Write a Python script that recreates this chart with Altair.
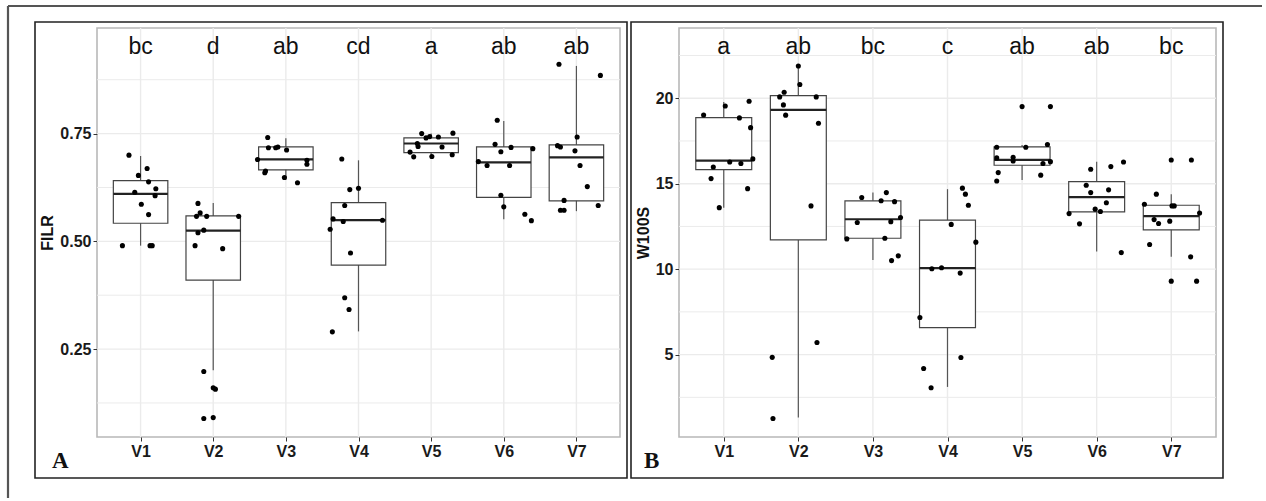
import altair as alt
import pandas as pd

cats = ["V1", "V2", "V3", "V4", "V5", "V6", "V7"]
cat_pos = [1, 2, 3, 4, 5, 6, 7]

# ---------------- Panel A : FILR ----------------
A_letters = ["bc", "d", "ab", "cd", "a", "ab", "ab"]
A_letter_y = 0.952
A_values = [
    [0.700, 0.669, 0.653, 0.638, 0.622, 0.614, 0.606, 0.586, 0.562, 0.490, 0.490, 0.490],
    [0.588, 0.566, 0.558, 0.558, 0.558, 0.526, 0.520, 0.490, 0.483, 0.198, 0.160, 0.157, 0.089, 0.091],
    [0.741, 0.717, 0.717, 0.719, 0.712, 0.690, 0.688, 0.679, 0.663, 0.659, 0.648, 0.636],
    [0.691, 0.620, 0.623, 0.583, 0.552, 0.546, 0.549, 0.528, 0.473, 0.369, 0.342, 0.290],
    [0.750, 0.740, 0.743, 0.742, 0.751, 0.727, 0.720, 0.719, 0.707, 0.696, 0.697, 0.701],
    [0.781, 0.725, 0.718, 0.715, 0.708, 0.685, 0.676, 0.676, 0.607, 0.580, 0.563, 0.548],
    [0.911, 0.885, 0.742, 0.722, 0.719, 0.710, 0.676, 0.627, 0.595, 0.572, 0.572, 0.583],
]
A_jitter = [
    [-0.16, 0.09, -0.03, 0.11, 0.21, -0.08, 0.20, 0.01, 0.11, -0.25, 0.13, 0.16],
    [-0.21, -0.18, -0.23, -0.09, 0.35, -0.13, -0.21, -0.25, 0.13, -0.13, 0.00, 0.03, -0.13, 0.00],
    [-0.25, -0.24, -0.14, -0.11, 0.01, -0.39, 0.29, 0.29, -0.28, -0.29, -0.02, 0.16],
    [-0.23, -0.12, 0.00, -0.19, -0.35, -0.21, 0.33, -0.39, -0.11, -0.19, -0.13, -0.36],
    [-0.13, -0.07, -0.02, 0.10, 0.30, -0.19, -0.18, 0.15, -0.29, -0.24, 0.01, 0.29],
    [-0.09, -0.12, 0.10, 0.40, -0.04, -0.35, -0.23, 0.08, -0.04, 0.00, 0.29, 0.38],
    [-0.24, 0.33, 0.01, -0.26, -0.22, -0.02, 0.05, 0.15, -0.17, -0.22, -0.17, 0.30],
]
A_q3 = [0.641, 0.559, 0.719, 0.590, 0.740, 0.719, 0.724]
A_med = [0.610, 0.525, 0.690, 0.549, 0.727, 0.683, 0.695]
A_q1 = [0.542, 0.410, 0.666, 0.445, 0.706, 0.602, 0.594]
A_hi = [0.698, 0.589, 0.739, 0.688, 0.750, 0.779, 0.907]
A_lo = [0.490, 0.201, 0.643, 0.291, 0.700, 0.551, 0.570]
A_ticks = [0.25, 0.50, 0.75]
A_minor = [0.125, 0.375, 0.625, 0.875]
A_domain = [0.046, 0.995]

# ---------------- Panel B : W100S ----------------
B_letters = ["a", "ab", "bc", "c", "ab", "ab", "bc"]
B_letter_y = 22.98
B_values = [
    [19.02, 19.55, 19.82, 18.85, 18.28, 16.45, 16.27, 16.18, 15.98, 15.30, 14.71, 13.60],
    [21.89, 20.80, 20.35, 20.08, 20.08, 19.61, 19.01, 18.54, 13.70, 4.84, 5.71, 1.26],
    [14.19, 14.48, 14.00, 13.95, 13.02, 12.73, 12.78, 11.77, 11.81, 10.50, 10.78],
    [14.74, 14.39, 13.74, 12.62, 11.58, 10.02, 10.08, 9.77, 7.17, 4.83, 4.19, 3.06],
    [19.51, 19.51, 17.13, 17.13, 17.29, 16.51, 16.55, 16.33, 16.29, 16.18, 15.65, 15.50, 15.16],
    [15.85, 16.00, 16.27, 14.91, 14.48, 14.64, 13.89, 13.51, 13.37, 13.25, 12.65, 10.97],
    [16.39, 16.39, 14.39, 13.80, 13.70, 13.70, 13.29, 12.90, 12.67, 12.81, 11.44, 10.72, 9.30, 9.30],
]
B_jitter = [
    [-0.27, 0.02, 0.34, 0.21, 0.36, 0.39, 0.08, 0.23, -0.14, -0.17, 0.32, -0.06],
    [0.00, 0.02, -0.19, -0.25, 0.24, -0.20, -0.17, 0.27, 0.17, -0.35, 0.25, -0.34],
    [-0.15, 0.18, 0.11, 0.29, 0.37, -0.21, 0.24, -0.35, 0.16, 0.25, 0.34],
    [0.20, 0.24, 0.28, 0.05, 0.38, -0.21, -0.08, 0.17, -0.37, 0.18, -0.32, -0.22],
    [0.00, 0.38, -0.34, 0.05, 0.34, -0.34, -0.12, -0.12, 0.38, 0.28, -0.32, 0.25, -0.34],
    [-0.08, 0.19, 0.36, -0.14, -0.08, 0.16, 0.13, -0.02, 0.05, -0.37, -0.23, 0.33],
    [0.00, 0.27, -0.20, -0.36, 0.01, 0.04, 0.38, -0.23, -0.17, -0.02, -0.29, 0.26, 0.00, 0.34],
]
B_q3 = [18.87, 20.15, 14.00, 12.87, 17.15, 15.12, 13.74]
B_med = [16.35, 19.32, 12.92, 10.06, 16.40, 14.21, 13.10]
B_q1 = [15.82, 11.71, 11.81, 6.58, 16.08, 13.35, 12.30]
B_hi = [19.78, 21.89, 14.48, 14.68, 17.27, 16.28, 14.39]
B_lo = [13.60, 1.32, 10.53, 3.11, 15.22, 11.03, 10.72]
B_ticks = [5, 10, 15, 20]
B_minor = [2.5, 7.5, 12.5, 17.5, 22.5]
B_domain = [0.18, 24.11]

BOX_HALF = 0.375
FONT = "Liberation Sans"
GRID = "#ebebeb"
one_row = pd.DataFrame({"k": [0]})


def panel(values, jitter, q1, med, q3, lo, hi, letters, letter_y, ticks, minor,
          domain, ytitle, yformat, frame, tag_x, tag):
    xs = alt.Scale(domain=[0.4, 7.6], nice=False, zero=False)
    ys = alt.Scale(domain=domain, nice=False, zero=False)
    xaxis = alt.Axis(values=cat_pos, labelExpr="'V' + datum.value", grid=False,
                     domain=False, ticks=True, tickSize=4, tickColor="#333333",
                     labelFont=FONT, labelFontSize=16, labelFontWeight="bold",
                     labelColor="#1a1a1a", labelPadding=2, title=None)
    yaxis = alt.Axis(values=ticks, format=yformat, grid=False, domain=False,
                     tickSize=4, tickColor="#333333", labelFont=FONT,
                     labelFontSize=16, labelFontWeight="bold", labelColor="#1a1a1a",
                     labelPadding=2, title=ytitle, titleFont=FONT, titleFontSize=16,
                     titleFontWeight="bold", titleColor="#111111", titlePadding=4)

    def X(f):
        return alt.X(f, type="quantitative", scale=xs, axis=xaxis)

    def Y(f):
        return alt.Y(f, type="quantitative", scale=ys, axis=yaxis)

    boxes = pd.DataFrame({"cat": cats, "pos": cat_pos, "q1": q1, "med": med,
                          "q3": q3, "lo": lo, "hi": hi, "letter": letters})
    boxes["left"] = boxes["pos"] - BOX_HALF
    boxes["right"] = boxes["pos"] + BOX_HALF
    boxes["ly"] = letter_y

    rows = []
    for i, (vals, jits) in enumerate(zip(values, jitter)):
        for v, j in zip(vals, jits):
            rows.append({"cat": cats[i], "xp": cat_pos[i] + j, "val": v})
    pts = pd.DataFrame(rows)

    major_df = pd.DataFrame({"gy": ticks})
    minor_df = pd.DataFrame({"gy": minor})
    vgrid_df = pd.DataFrame({"gx": cat_pos})

    minor_grid = alt.Chart(minor_df).mark_rule(color=GRID, strokeWidth=1).encode(y=Y("gy"))
    major_grid = alt.Chart(major_df).mark_rule(color=GRID, strokeWidth=1.4).encode(y=Y("gy"))
    v_grid = alt.Chart(vgrid_df).mark_rule(color=GRID, strokeWidth=1.4).encode(x=X("gx"))

    whisk = alt.Chart(boxes).mark_rule(color="#555555", strokeWidth=1.2).encode(
        x=X("pos"), y=Y("lo"), y2="hi")
    box = alt.Chart(boxes).mark_rect(fill="white", stroke="#444444", strokeWidth=1.2).encode(
        x=X("left"), x2="right", y=Y("q1"), y2="q3")
    medl = alt.Chart(boxes).mark_rule(color="#222222", strokeWidth=2.2).encode(
        x=X("left"), x2="right", y=Y("med"))
    dots = alt.Chart(pts).mark_circle(size=26, color="black", opacity=1).encode(
        x=X("xp"), y=Y("val"))
    lets = alt.Chart(boxes).mark_text(font=FONT, fontSize=23, color="#111111",
                                      baseline="middle", align="center").encode(
        x=X("pos"), y=Y("ly"), text="letter")

    fx1, fx2, fy1, fy2 = frame
    pframe = alt.Chart(one_row).mark_rect(fillOpacity=0, stroke="#222222",
                                          strokeWidth=1.6).encode(
        x=alt.value(fx1), x2=alt.value(fx2), y=alt.value(fy1), y2=alt.value(fy2))
    ptag = alt.Chart(one_row).mark_text(font="Liberation Serif", fontSize=23,
                                        fontWeight="bold", color="#111111",
                                        align="left", baseline="alphabetic").encode(
        x=alt.value(tag_x), y=alt.value(440), text=alt.value(tag))

    return [minor_grid, major_grid, v_grid, whisk, box, medl, dots, lets, pframe, ptag]


A_layers = panel(A_values, A_jitter, A_q1, A_med, A_q3, A_lo, A_hi, A_letters,
                 A_letter_y, A_ticks, A_minor, A_domain, "FILR", ".2f",
                 (-62, 530, -6, 450), -45, "A")

# outer frame (top and left edges) drawn in panel A's coordinate space
outer_top = alt.Chart(one_row).mark_rule(color="#555555", strokeWidth=2.2).encode(
    x=alt.value(-89), x2=alt.value(1165), y=alt.value(-22))
outer_left = alt.Chart(one_row).mark_rule(color="#555555", strokeWidth=2.2).encode(
    x=alt.value(-89), y=alt.value(-22), y2=alt.value(470))

panelA = alt.layer(*A_layers, outer_top, outer_left).properties(width=523, height=409)

B_layers = panel(B_values, B_jitter, B_q1, B_med, B_q3, B_lo, B_hi, B_letters,
                 B_letter_y, B_ticks, B_minor, B_domain, "W100S", "d",
                 (-48, 544, -6, 450), -35, "B")
panelB = alt.layer(*B_layers).properties(width=537, height=409)

chart = alt.hconcat(panelA, panelB, spacing=59, bounds="flush").properties(
    padding={"left": 6, "top": 4, "right": 0, "bottom": 0},
    background="white",
).configure_view(stroke="#b8b8b8", strokeWidth=1.6)

chart.save("out.html", embed_options={"renderer": "svg", "actions": False})
